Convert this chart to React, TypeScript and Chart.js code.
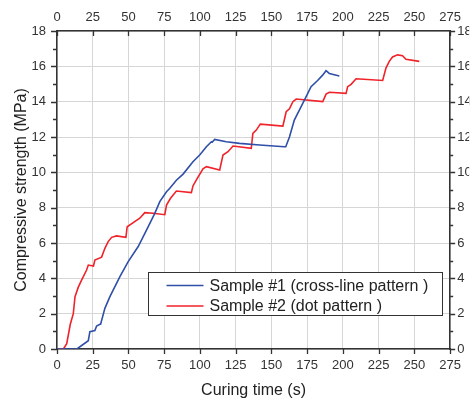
import React, { useEffect, useRef } from "react";
import { Chart, registerables } from "chart.js";

Chart.register(...registerables);

const sample1Label = "Sample #1 (cross-line pattern )";
const sample2Label = "Sample #2 (dot pattern )";

const sample1Time = [0, 13.9, 21.9, 23, 26.5, 27.7, 30, 30.5, 33.5, 37, 44, 49.8, 56.8, 62.6, 68.4, 71.9, 76.6, 78.9, 83.5, 88.2, 95.1, 99.8, 104.5, 108, 108.5, 110.3, 118.4, 127.7, 141.7, 159, 160, 162.6, 166, 171.9, 175.4, 177.7, 182.3, 185.8, 188.2, 190.5, 197.5];
const sample1Strength = [0, 0, 0.47, 0.98, 1.04, 1.3, 1.4, 1.4, 2.3, 2.96, 4.1, 4.95, 5.8, 6.73, 7.68, 8.34, 8.9, 9.1, 9.55, 9.9, 10.6, 10.98, 11.45, 11.73, 11.7, 11.86, 11.73, 11.64, 11.55, 11.45, 11.45, 12.0, 12.96, 13.9, 14.47, 14.85, 15.2, 15.5, 15.75, 15.6, 15.45];

const sample2Time = [0, 4.5, 6.8, 9.3, 11.4, 12.6, 14.9, 17.2, 20.7, 21.9, 25.5, 26.5, 31.2, 33.5, 35.8, 38.2, 41.6, 48.2, 49.1, 53.3, 57.9, 61.4, 67.2, 75.4, 76.6, 79.3, 83.5, 94, 95.1, 97.5, 102.1, 104.5, 113.8, 116.1, 119.6, 123.1, 135.9, 137, 139.4, 142.2, 158, 160.3, 162.6, 165, 167.3, 185.9, 188.2, 190.5, 202.2, 203.3, 205.7, 209.2, 227.8, 230.1, 232.4, 234.7, 238.2, 241.7, 244.1, 253.4];
const sample2Strength = [0, 0, 0.3, 1.4, 2.0, 2.96, 3.5, 3.9, 4.47, 4.75, 4.7, 5.04, 5.2, 5.7, 6.08, 6.32, 6.4, 6.32, 6.92, 7.15, 7.4, 7.72, 7.68, 7.6, 8.15, 8.52, 8.94, 8.85, 9.23, 9.57, 10.2, 10.32, 10.13, 10.98, 11.17, 11.49, 11.36, 12.2, 12.39, 12.73, 12.62, 13.43, 13.6, 14.0, 14.15, 14.0, 14.43, 14.53, 14.47, 14.85, 14.98, 15.3, 15.2, 15.9, 16.28, 16.53, 16.65, 16.6, 16.4, 16.28];

const xMin = 0, xMax = 275, xStep = 25;
const yMin = 0, yMax = 18, yStep = 2, yMinorStep = 1;
const xTitle = "Curing time (s)";
const yTitle = "Compressive strength (MPa)";

const BLUE = "#2f4fa8";
const RED = "#f0222a";
const AXIS = "#333333";
const FONT = "'Liberation Sans', Arial, sans-serif";

const zip = (xs: number[], ys: number[]) => xs.map((x, i) => ({ x, y: ys[i] }));

const tickPlugin = {
  id: "tickMarks",
  afterDraw(chart: any) {
    const { ctx, chartArea } = chart;
    const xs = chart.scales.x;
    const ys = chart.scales.y;
    ctx.save();
    ctx.strokeStyle = AXIS;
    ctx.lineWidth = 1.3;
    ctx.beginPath();
    for (let v = xMin; v <= xMax; v += xStep) {
      const px = Math.round(xs.getPixelForValue(v)) + 0.5;
      ctx.moveTo(px, chartArea.bottom);
      ctx.lineTo(px, chartArea.bottom + 5);
      ctx.moveTo(px, chartArea.top);
      ctx.lineTo(px, chartArea.top + 5);
    }
    for (let v = yMin; v <= yMax; v += yMinorStep) {
      const py = Math.round(ys.getPixelForValue(v)) + 0.5;
      const major = v % yStep === 0;
      const len = major ? 6 : 4;
      ctx.moveTo(chartArea.left - len, py);
      ctx.lineTo(chartArea.left, py);
      ctx.moveTo(chartArea.right, py);
      ctx.lineTo(chartArea.right + len - 1, py);
    }
    ctx.stroke();

    // legend
    const bx = chartArea.left + 91.5;
    const by = chartArea.top + 241.5;
    const bw = 294;
    const bh = 43;
    ctx.fillStyle = "#ffffff";
    ctx.fillRect(bx, by, bw, bh);
    ctx.strokeStyle = "#333333";
    ctx.lineWidth = 1;
    ctx.strokeRect(bx, by, bw, bh);
    const items = chart.data.datasets;
    items.forEach((ds: any, i: number) => {
      const ly = by + 13 + i * 20.5;
      ctx.strokeStyle = ds.borderColor;
      ctx.lineWidth = 1.6;
      ctx.beginPath();
      ctx.moveTo(bx + 18, ly);
      ctx.lineTo(bx + 55, ly);
      ctx.stroke();
      ctx.fillStyle = "#222222";
      ctx.font = `16px ${FONT}`;
      ctx.textBaseline = "middle";
      ctx.textAlign = "left";
      ctx.fillText(ds.label, bx + 61, ly + 1);
    });
    ctx.restore();
  },
};

export default function App() {
  const ref = useRef<HTMLCanvasElement | null>(null);
  useEffect(() => {
    if (!ref.current) return;
    const tickFont = { family: FONT, size: 13 };
    const border = { display: true, color: AXIS, width: 1.5 };
    const chart = new Chart(ref.current, {
      type: "line",
      data: {
        datasets: [
          {
            label: sample1Label,
            data: zip(sample1Time, sample1Strength),
            borderColor: BLUE,
            backgroundColor: BLUE,
            borderWidth: 1.6,
            pointRadius: 0,
            tension: 0,
            xAxisID: "x",
            yAxisID: "y",
          },
          {
            label: sample2Label,
            data: zip(sample2Time, sample2Strength),
            borderColor: RED,
            backgroundColor: RED,
            borderWidth: 1.6,
            pointRadius: 0,
            tension: 0,
            xAxisID: "x",
            yAxisID: "y",
          },
        ],
      },
      options: {
        responsive: false,
        animation: false,
        layout: { padding: 0 },
        plugins: { legend: { display: false }, tooltip: { enabled: false } },
        scales: {
          x: {
            type: "linear",
            position: "bottom",
            min: xMin,
            max: xMax,
            ticks: { stepSize: xStep, font: tickFont, color: "#333", padding: 9, maxRotation: 0, autoSkip: false },
            grid: { color: "#d6d6d6", lineWidth: 1, drawTicks: false },
            border,
            title: { display: true, text: xTitle, font: { family: FONT, size: 16 }, color: "#222", padding: { top: 0, bottom: 1 } },
            afterFit: (s: any) => { s.height = 52; },
          },
          x2: {
            type: "linear",
            position: "top",
            min: xMin,
            max: xMax,
            ticks: { stepSize: xStep, font: tickFont, color: "#333", padding: 6, maxRotation: 0, autoSkip: false },
            grid: { drawOnChartArea: false, drawTicks: false },
            border,
            afterFit: (s: any) => { s.height = 31; },
          },
          y: {
            type: "linear",
            position: "left",
            min: yMin,
            max: yMax,
            ticks: { stepSize: yStep, font: tickFont, color: "#333", padding: 11 },
            grid: { color: "#d6d6d6", lineWidth: 1, drawTicks: false },
            border,
            title: { display: true, text: yTitle, font: { family: FONT, size: 16 }, color: "#222", padding: { top: 12, bottom: 0 } },
            afterFit: (s: any) => { s.width = 57; },
          },
          y2: {
            type: "linear",
            position: "right",
            min: yMin,
            max: yMax,
            ticks: { stepSize: yStep, font: tickFont, color: "#333", padding: 7 },
            grid: { drawOnChartArea: false, drawTicks: false },
            border,
            afterFit: (s: any) => { s.width = 19; },
          },
        },
      },
      plugins: [tickPlugin],
    } as any);
    return () => chart.destroy();
  }, []);
  return (
    <div style={{ position: "fixed", left: 0, top: 0, width: 470, height: 401, overflow: "hidden", background: "#fff" }}>
      <canvas ref={ref} width={470} height={401} style={{ display: "block" }} />
    </div>
  );
}
